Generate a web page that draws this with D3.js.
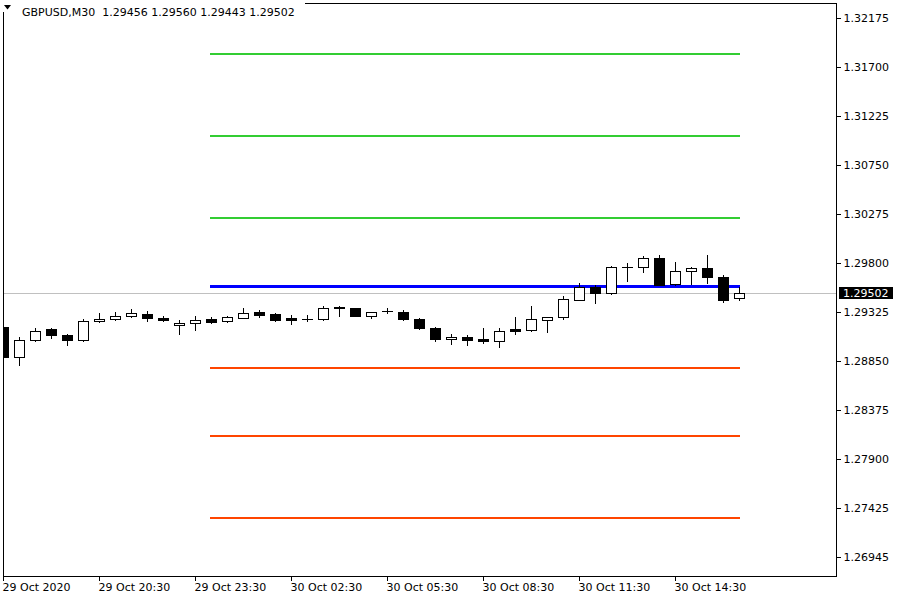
<!DOCTYPE html>
<html>
<head>
<meta charset="utf-8">
<script src="https://cdn.jsdelivr.net/npm/d3@7"></script>
<style>
  html, body { margin: 0; padding: 0; background: #fff; }
  svg { display: block; font-family: "DejaVu Sans", sans-serif; font-size: 11px; }
</style>
</head>
<body>
<svg id="chart" width="900" height="600"></svg>
<script>
// ---------------- DATA ----------------
const symbolTitle = "GBPUSD,M30";
const headerValues = ["1.29456", "1.29560", "1.29443", "1.29502"];

const opens  = [1.29180,1.28886,1.29047,1.29153,1.29102,1.29047,1.29231,1.29250,1.29279,1.29306,
                1.29267,1.29192,1.29215,1.29250,1.29235,1.29264,1.29318,1.29306,1.29260,1.29255,
                1.29250,1.29373,1.29361,1.29283,1.29332,1.29325,1.29257,1.29170,1.29060,1.29083,
                1.29056,1.29037,1.29153,1.29144,1.29241,1.29270,1.29441,1.29567,1.29502,1.29761,
                1.29758,1.29848,1.29594,1.29720,1.29748,1.29664,1.29456];
const highs  = [1.29189,1.29076,1.29170,1.29163,1.29105,1.29257,1.29315,1.29325,1.29354,1.29335,
                1.29286,1.29247,1.29286,1.29277,1.29283,1.29361,1.29344,1.29308,1.29289,1.29296,
                1.29383,1.29383,1.29363,1.29327,1.29357,1.29338,1.29264,1.29177,1.29112,1.29099,
                1.29170,1.29163,1.29277,1.29383,1.29277,1.29480,1.29606,1.29580,1.29771,1.29797,
                1.29861,1.29878,1.29810,1.29761,1.29878,1.29677,1.29560];
const lows   = [1.28792,1.28811,1.29045,1.29066,1.28998,1.29045,1.29228,1.29247,1.29276,1.29231,
                1.29231,1.29105,1.29144,1.29215,1.29225,1.29262,1.29270,1.29239,1.29206,1.29238,
                1.29241,1.29286,1.29281,1.29267,1.29308,1.29248,1.29153,1.29037,1.29015,1.29005,
                1.29022,1.28979,1.29105,1.29138,1.29124,1.29250,1.29435,1.29409,1.29497,1.29619,
                1.29706,1.29580,1.29587,1.29596,1.29603,1.29422,1.29443];
const closes = [1.28889,1.29054,1.29141,1.29095,1.29047,1.29238,1.29257,1.29283,1.29312,1.29260,
                1.29241,1.29218,1.29241,1.29221,1.29270,1.29312,1.29293,1.29241,1.29241,1.29257,
                1.29357,1.29357,1.29283,1.29325,1.29330,1.29250,1.29163,1.29056,1.29083,1.29047,
                1.29037,1.29141,1.29134,1.29257,1.29277,1.29451,1.29564,1.29502,1.29761,1.29763,
                1.29848,1.29584,1.29720,1.29752,1.29658,1.29441,1.29502];

// pivot levels (R3, R2, R1, P, S1, S2, S3)
const levelValues = [1.31826, 1.31031, 1.30236, 1.29577, 1.28782, 1.28123, 1.27328];
const levelKinds  = ["R", "R", "R", "P", "S", "S", "S"];
const levelStartBar = 13;   // 30 Oct 00:00
const levelEndBar = 46;

const bidPrice = 1.29502;
const bidLabel = "1.29502";

const yTickLabels = ["1.32175","1.31700","1.31225","1.30750","1.30275","1.29800",
                     "1.29325","1.28850","1.28375","1.27900","1.27425","1.26945"];
const xTickBars   = [0, 6, 12, 18, 24, 30, 36, 42];
const xTickLabels = ["29 Oct 2020","29 Oct 20:30","29 Oct 23:30","30 Oct 02:30",
                     "30 Oct 05:30","30 Oct 08:30","30 Oct 11:30","30 Oct 14:30"];

// ---------------- LAYOUT ----------------
const plot = { left: 3, top: 3, right: 836, bottom: 576 };
const svg = d3.select("#chart");

const x = d3.scaleLinear().domain([0, 46]).range([3, 739]);
const y = d3.scaleLinear().domain([1.26945, 1.32175]).range([557, 18]);

const levelColor = { R: "#32cd32", P: "#0000ff", S: "#ff4500" };

// background
svg.append("rect").attr("x", 0).attr("y", 0).attr("width", 900).attr("height", 600).attr("fill", "#fff");

// clip
svg.append("defs").append("clipPath").attr("id", "plotclip")
  .append("rect").attr("x", plot.left).attr("y", plot.top)
  .attr("width", plot.right - plot.left).attr("height", plot.bottom - plot.top);

const g = svg.append("g").attr("clip-path", "url(#plotclip)");

// bid line
g.append("line")
  .attr("x1", plot.left).attr("x2", plot.right + 3)
  .attr("y1", Math.round(y(bidPrice)) + 0.5).attr("y2", Math.round(y(bidPrice)) + 0.5)
  .attr("stroke", "#c0c0c0").attr("stroke-width", 1);

// pivot lines
levelValues.forEach((v, i) => {
  const k = levelKinds[i];
  const w = k === "P" ? 3 : 2;
  const yy = Math.round(y(v)) + (w % 2 ? 0.5 : 0);
  g.append("line")
    .attr("x1", x(levelStartBar) - 1).attr("x2", x(levelEndBar) + 1)
    .attr("y1", yy).attr("y2", yy)
    .attr("stroke", levelColor[k]).attr("stroke-width", w);
});

// candles
const bars = d3.range(opens.length).map(i => ({ i, o: opens[i], h: highs[i], l: lows[i], c: closes[i] }));
const cg = g.append("g").attr("shape-rendering", "crispEdges");
bars.forEach(d => {
  const cx = Math.round(x(d.i));
  const up = d.c >= d.o;
  const yTop = Math.round(y(Math.max(d.o, d.c)));
  const yBot = Math.round(y(Math.min(d.o, d.c)));
  cg.append("line")
    .attr("x1", cx + 0.5).attr("x2", cx + 0.5)
    .attr("y1", Math.round(y(d.h))).attr("y2", Math.round(y(d.l)) + 1)
    .attr("stroke", "#000").attr("stroke-width", 1);
  if (yBot - yTop < 1) {
    cg.append("line")
      .attr("x1", cx - 5).attr("x2", cx + 6)
      .attr("y1", yTop + 0.5).attr("y2", yTop + 0.5)
      .attr("stroke", "#000").attr("stroke-width", 1);
  } else {
    cg.append("rect")
      .attr("x", cx - 5 + 0.5).attr("y", yTop + 0.5)
      .attr("width", 10).attr("height", yBot - yTop)
      .attr("fill", up ? "#fff" : "#000")
      .attr("stroke", "#000").attr("stroke-width", 1);
  }
});

// frame
svg.append("rect")
  .attr("x", plot.left + 0.5).attr("y", plot.top + 0.5)
  .attr("width", plot.right - plot.left).attr("height", plot.bottom - plot.top)
  .attr("fill", "none").attr("stroke", "#000").attr("stroke-width", 1)
  .attr("shape-rendering", "crispEdges");

// right axis
const yAxis = d3.axisRight(y)
  .tickValues(yTickLabels.map(Number))
  .tickFormat((d, i) => yTickLabels[i])
  .tickSize(4).tickPadding(3);
const ya = svg.append("g").attr("transform", `translate(${plot.right + 0.5},0)`).call(yAxis);
ya.select(".domain").remove();
ya.selectAll(".tick line").attr("stroke", "#000").attr("shape-rendering", "crispEdges");
ya.selectAll(".tick text").attr("fill", "#000").attr("font-family", "DejaVu Sans, sans-serif").attr("font-size", 11);
ya.selectAll(".tick").attr("transform", d => `translate(0,${Math.round(y(d)) + 0.5})`);

// bottom axis
const xAxis = d3.axisBottom(x)
  .tickValues(xTickBars)
  .tickFormat((d, i) => xTickLabels[i])
  .tickSize(4).tickPadding(3);
const xa = svg.append("g").attr("transform", `translate(0,${plot.bottom + 0.5})`).call(xAxis);
xa.select(".domain").remove();
xa.selectAll(".tick").attr("transform", d => `translate(${Math.round(x(d)) + 0.5},0)`);
xa.selectAll(".tick line").attr("stroke", "#000").attr("shape-rendering", "crispEdges");
xa.selectAll(".tick text").attr("fill", "#000").attr("text-anchor", "start")
  .attr("x", -1).attr("y", 7).attr("dy", "0.71em")
  .attr("font-family", "DejaVu Sans, sans-serif").attr("font-size", 11);

// bid price label
const by = Math.round(y(bidPrice));
svg.append("rect").attr("x", 839).attr("y", by - 6).attr("width", 54).attr("height", 12).attr("fill", "#000");
svg.append("text").attr("x", 843).attr("y", by).attr("dy", "0.36em")
  .attr("fill", "#fff").attr("font-size", 11).text(bidLabel);

// header
svg.append("rect").attr("x", 0).attr("y", 0).attr("width", 305).attr("height", 12).attr("fill", "#fff");
svg.append("path").attr("d", "M4,5 L11,5 L7.5,9.5 Z").attr("fill", "#000");
svg.append("text").attr("x", 22).attr("y", 16).attr("fill", "#000").attr("font-size", 11)
  .attr("xml:space", "preserve").style("white-space", "pre")
  .text(symbolTitle + "  " + headerValues.join(" "));
</script>
</body>
</html>
